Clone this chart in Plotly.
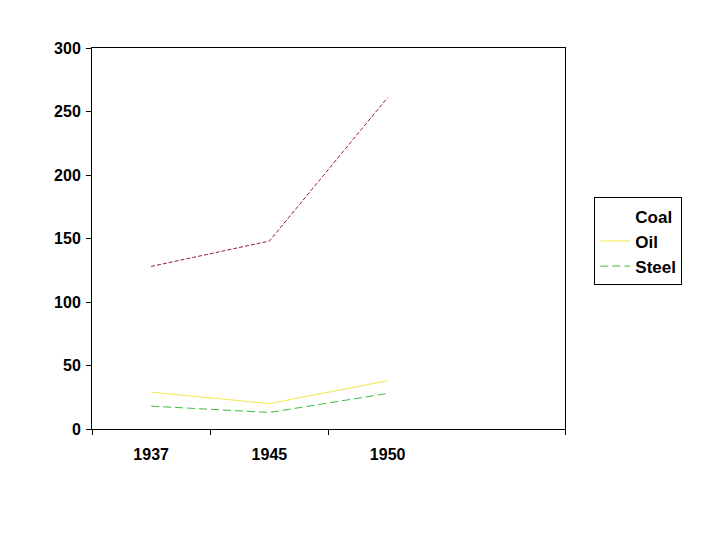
import plotly.graph_objects as go

# =====================================================
# DATA
# =====================================================

years = ["1937", "1945", "1950"]
coal = [128, 148, 261]
oil = [29, 20, 38]
steel = [18, 13, 28]

x_pos = list(range(len(years)))

fig = go.Figure()

# coal line drawn without legend entry (legend shows no swatch)
fig.add_trace(
    go.Scatter(
        x=x_pos,
        y=coal,
        mode="lines",
        name="Coal",
        showlegend=False,
        line=dict(color="#9B1B30", width=1, dash="4px,2px")
    )
)

fig.add_trace(
    go.Scatter(
        x=[None],
        y=[None],
        mode="lines",
        name="Coal",
        line=dict(color="white", width=1)
    )
)

fig.add_trace(
    go.Scatter(
        x=x_pos,
        y=oil,
        mode="lines",
        name="Oil",
        line=dict(color="#F2E64A", width=1)
    )
)

fig.add_trace(
    go.Scatter(
        x=x_pos,
        y=steel,
        mode="lines",
        name="Steel",
        line=dict(color="#3DBE3D", width=1, dash="8px,4px")
    )
)

FONT = "Liberation Sans, Arial, sans-serif"

fig.update_layout(
    width=720,
    height=540,
    paper_bgcolor="white",
    plot_bgcolor="white",
    margin=dict(l=84, r=163, t=40, b=119),
    font=dict(family=FONT, size=16, color="black"),
    legend=dict(
        x=1.062,
        y=0.608,
        xanchor="left",
        yanchor="top",
        bordercolor="black",
        borderwidth=1,
        bgcolor="white",
        font=dict(family=FONT, size=17, color="black", weight="bold"),
        tracegroupgap=0
    ),
    xaxis=dict(
        range=[-0.5, 3.5],
        tickvals=x_pos,
        ticktext=years,
        ticks="",
        showgrid=False,
        zeroline=False,
        showline=True,
        linecolor="black",
        linewidth=1,
        mirror=True,
        ticklabelstandoff=11,
        tickfont=dict(family=FONT, size=16, color="black", weight="bold"),
        minor=dict(
            tickvals=[-0.5, 0.5, 1.5, 3.5],
            ticks="outside",
            ticklen=5,
            tickcolor="black",
            showgrid=False
        )
    ),
    yaxis=dict(
        range=[0, 300],
        dtick=50,
        ticks="outside",
        ticklen=5,
        tickcolor="black",
        showgrid=False,
        zeroline=False,
        showline=True,
        linecolor="black",
        linewidth=1,
        mirror=True,
        ticklabelstandoff=2,
        tickfont=dict(family=FONT, size=16, color="black", weight="bold")
    )
)

fig.write_html("out.html")
